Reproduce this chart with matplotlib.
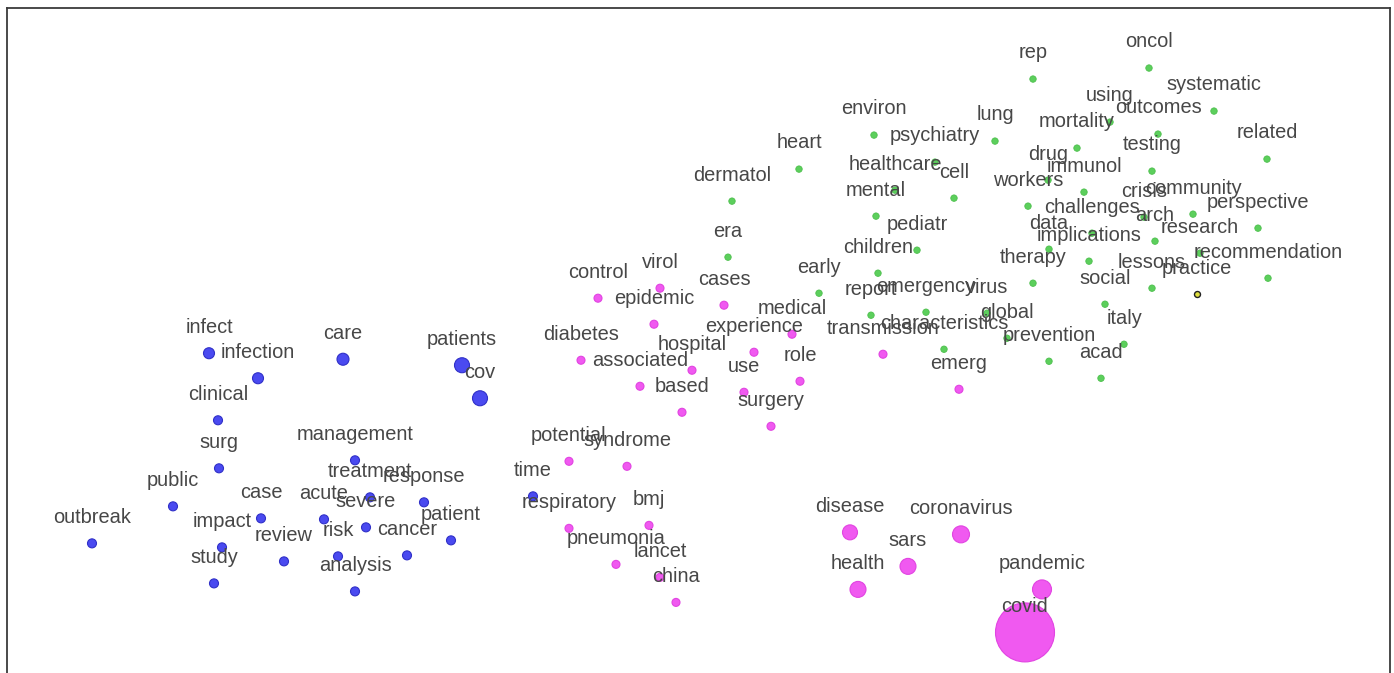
import matplotlib.pyplot as plt
import numpy as np

# word embedding map, positions (x right, y down)
blue_words = ['infect', 'infection', 'care', 'patients', 'cov', 'clinical', 'surg',
              'management', 'public', 'case', 'acute', 'treatment', 'response', 'severe',
              'risk', 'cancer', 'patient', 'impact', 'review', 'study', 'analysis',
              'outbreak', 'time']
blue_x = [209, 258, 343, 462, 480, 218, 219, 355, 173, 261, 324, 370, 424, 366,
          338, 407, 451, 222, 284, 214, 355, 92, 533]
blue_y = [353, 378, 359, 365, 398, 420, 468, 460, 506, 518, 519, 497, 502, 527,
          556, 555, 540, 547, 561, 583, 591, 543, 496]
blue_freq = [5.5, 5.5, 6, 7.5, 7.5, 4.5, 4.5, 4.5, 4.5, 4.5, 4.5, 4.5, 4.5, 4.5,
             4.5, 4.5, 4.5, 4.5, 4.5, 4.5, 4.5, 4.5, 4.5]

pink_words = ['control', 'virol', 'epidemic', 'cases', 'diabetes', 'associated', 'hospital',
              'based', 'experience', 'medical', 'use', 'role', 'surgery', 'transmission',
              'emerg', 'potential', 'syndrome', 'respiratory', 'bmj', 'pneumonia', 'lancet',
              'china', 'disease', 'coronavirus', 'sars', 'health', 'pandemic', 'covid']
pink_x = [598, 660, 654, 724, 581, 640, 692, 682, 754, 792, 744, 800, 771, 883,
          959, 569, 627, 569, 649, 616, 660, 676, 850, 961, 908, 858, 1042, 1025]
pink_y = [298, 288, 324, 305, 360, 386, 370, 412, 352, 334, 392, 381, 426, 354,
          389, 461, 466, 528, 525, 564, 577, 602, 532, 534, 566, 589, 589, 632]
pink_freq = [4, 4, 4, 4, 4, 4, 4, 4, 4, 4, 4, 4, 4, 4,
             4, 4, 4, 4, 4, 4, 4, 4, 7.5, 8.5, 8, 8, 9.5, 29.5]

green_words = ['rep', 'oncol', 'systematic', 'using', 'outcomes', 'environ', 'lung',
               'psychiatry', 'mortality', 'heart', 'related', 'testing', 'healthcare', 'cell',
               'drug', 'immunol', 'dermatol', 'workers', 'mental', 'crisis', 'community',
               'challenges', 'perspective', 'pediatr', 'data', 'arch', 'research',
               'implications', 'children', 'therapy', 'lessons', 'recommendation', 'social',
               'early', 'era', 'report', 'emergency', 'virus', 'global', 'characteristics',
               'prevention', 'italy', 'acad']
green_x = [1033, 1149, 1214, 1110, 1158, 874, 995, 935, 1077, 799, 1267, 1152, 895, 954,
           1048, 1084, 732, 1028, 876, 1144, 1193, 1092, 1258, 917, 1049, 1155, 1200,
           1089, 878, 1033, 1152, 1268, 1105, 819, 728, 871, 926, 987, 1007, 944,
           1049, 1124, 1101]
green_y = [79, 68, 111, 122, 134, 135, 141, 162, 148, 169, 159, 171, 190, 198,
           180, 192, 201, 206, 216, 217, 214, 233, 228, 250, 249, 241, 253,
           261, 273, 283, 288, 278, 304, 293, 257, 315, 312, 313, 338, 349,
           361, 344, 378]

odd_words = ['practice']
odd_x = [1197]
odd_y = [294]

fig = plt.figure(figsize=(13.94, 6.73), dpi=100)
ax = fig.add_axes([7 / 1394, -0.02, (1390 - 7) / 1394, 1 - 8 / 673 + 0.02])
ax.set_xlim(7, 1390)
ax.set_ylim(686, 8)
ax.set_xticks([])
ax.set_yticks([])
for s in ax.spines.values():
    s.set_color('#3a3a3a')
    s.set_linewidth(1.3)


def sz(r):
    return (2 * np.asarray(r, dtype=float) * 0.72) ** 2


ax.scatter(green_x, green_y, s=sz([3.2] * len(green_x)), color='#5ccf5c',
           edgecolors='#4cbf4c', linewidths=0.6, zorder=2)
ax.scatter(pink_x, pink_y, s=sz(pink_freq), color='#f050f0',
           edgecolors='#e040e0', linewidths=0.8, alpha=0.95, zorder=2)
ax.scatter(blue_x, blue_y, s=sz(blue_freq), color='#4a4af0',
           edgecolors='#3030c8', linewidths=0.8, zorder=2)
ax.scatter(odd_x, odd_y, s=sz([3]), color='#e0e040', edgecolors='#222222',
           linewidths=1.0, zorder=2)

all_words = blue_words + pink_words + green_words + odd_words
all_x = blue_x + pink_x + green_x + odd_x
all_y = blue_y + pink_y + green_y + odd_y
for w, x, y in zip(all_words, all_x, all_y):
    ax.annotate(w, (x, y), xytext=(0, 18.8), textcoords='offset points',
                ha='center', va='center', fontsize=14.4,
                family='Liberation Sans', color='#474747', zorder=3)

fig.savefig('out.png', dpi=100)
